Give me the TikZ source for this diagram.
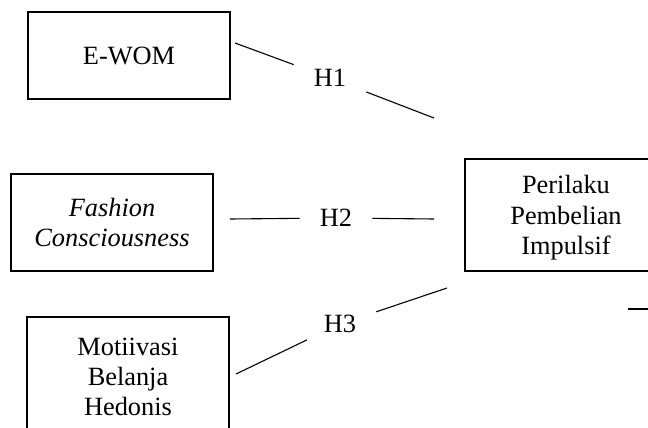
\documentclass[tikz,border=0pt]{standalone}
\usepackage{fontspec}
\setmainfont{Liberation Serif}
\usetikzlibrary{positioning}

\tikzset{
	varbox/.style={draw, line width=0.9pt, align=center, minimum width=92.1pt, inner sep=0pt},
	hyp/.style={inner xsep=9pt, inner ysep=3pt},
	link/.style={line width=0.5pt}
}

\begin{document}
\begin{tikzpicture}[x=0.016cm, y=-0.016cm, font=\fontsize{12}{13.8}\selectfont]
					\useasboundingbox (0,0) rectangle (648,428);
					
					\node[varbox, minimum height=39.7pt] (ewom) at (129,55.5) {E-WOM};
					\node[varbox, minimum height=44.2pt] (fashion) at (112,222.5) {\textit{Fashion}\\\textit{Consciousness}};
					\node[varbox, minimum height=54.7pt] (motivasi) at (128,377) {Motiivasi\\Belanja\\Hedonis};
					\node[varbox, minimum height=51.1pt, text depth=0pt] (perilaku) at (566,215) {Perilaku\\Pembelian\\Impulsif};
					
					\coordinate (A1) at (235,43);
					\coordinate (B1) at (434,118);
					\coordinate (A2) at (230,219);
					\coordinate (B2) at (434,219);
					\coordinate (A3) at (236,374);
					\coordinate (B3) at (447,288);
					
					\node[hyp] (h1) at (330,78) {H1};
					\node[hyp] (h2) at (336,218) {H2};
					\node[hyp] (h3) at (340,324) {H3};
					
					\draw[link] (A1) -- (h1) -- (B1);
					\draw[link] (A2) -- (h2) -- (B2);
					\draw[link] (A3) -- (h3) -- (B3);
					
					\coordinate (R) at (628,309);
					\draw[line width=0.9pt] (R) -- ++(30,0);
					
				\end{tikzpicture}
\end{document}
